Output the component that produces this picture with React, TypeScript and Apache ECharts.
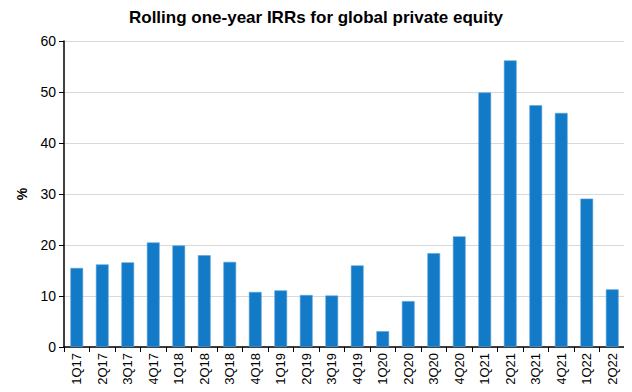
import React, { useEffect, useRef } from "react";
import * as echarts from "echarts";

const categories = ["1Q17","2Q17","3Q17","4Q17","1Q18","2Q18","3Q18","4Q18","1Q19","2Q19","3Q19","4Q19","1Q20","2Q20","3Q20","4Q20","1Q21","2Q21","3Q21","4Q21","1Q22","2Q22"];
const irrValues = [15.5,16.2,16.6,20.5,19.9,18.0,16.7,10.8,11.1,10.2,10.1,16.0,3.1,9.0,18.4,21.7,49.9,56.2,47.4,45.9,29.1,11.3];
const yTicks = { min: 0, max: 60, interval: 10 };

export default function App() {
  const ref = useRef<HTMLDivElement>(null);
  useEffect(() => {
    const chart = echarts.init(ref.current!, null, { renderer: "svg" });
    chart.setOption({
      animation: false,
      backgroundColor: "#ffffff",
      textStyle: { fontFamily: "Liberation Sans, Arial, sans-serif" },
      title: {
        text: "Rolling one-year IRRs for global private equity",
        left: "center",
        top: 4,
        textStyle: { fontSize: 17, fontWeight: "bold", color: "#000", fontFamily: "Liberation Sans, Arial, sans-serif" },
      },
      grid: { left: 64, right: 7, top: 41, bottom: 45, containLabel: false },
      xAxis: {
        type: "category",
        data: categories,
        axisLine: { lineStyle: { color: "#000", width: 1.5 } },
        axisTick: { show: true, alignWithLabel: false, length: 5, lineStyle: { color: "#000" } },
        axisLabel: { rotate: 90, color: "#000", fontSize: 13, margin: 6, interval: 0 },
      },
      yAxis: {
        type: "value",
        min: yTicks.min,
        max: yTicks.max,
        interval: yTicks.interval,
        name: "%",
        nameLocation: "middle",
        nameGap: 35,
        nameRotate: 90,
        nameTextStyle: { fontSize: 14, fontWeight: "bold", color: "#000" },
        axisLine: { show: true, lineStyle: { color: "#000", width: 1.5 } },
        axisTick: { show: true, length: 5, lineStyle: { color: "#000" } },
        axisLabel: { color: "#000", fontSize: 14, margin: 8 },
        splitLine: { lineStyle: { color: "#d9d9d9", width: 1 } },
      },
      series: [
        {
          type: "bar",
          data: irrValues,
          barWidth: "50%",
          itemStyle: { color: "#127AC7", borderColor: "#5AA5DD", borderWidth: 0.6 },
        },
      ],
    });
    return () => chart.dispose();
  }, []);
  return <div ref={ref} style={{ width: 632, height: 392, margin: -8 }} />;
}
